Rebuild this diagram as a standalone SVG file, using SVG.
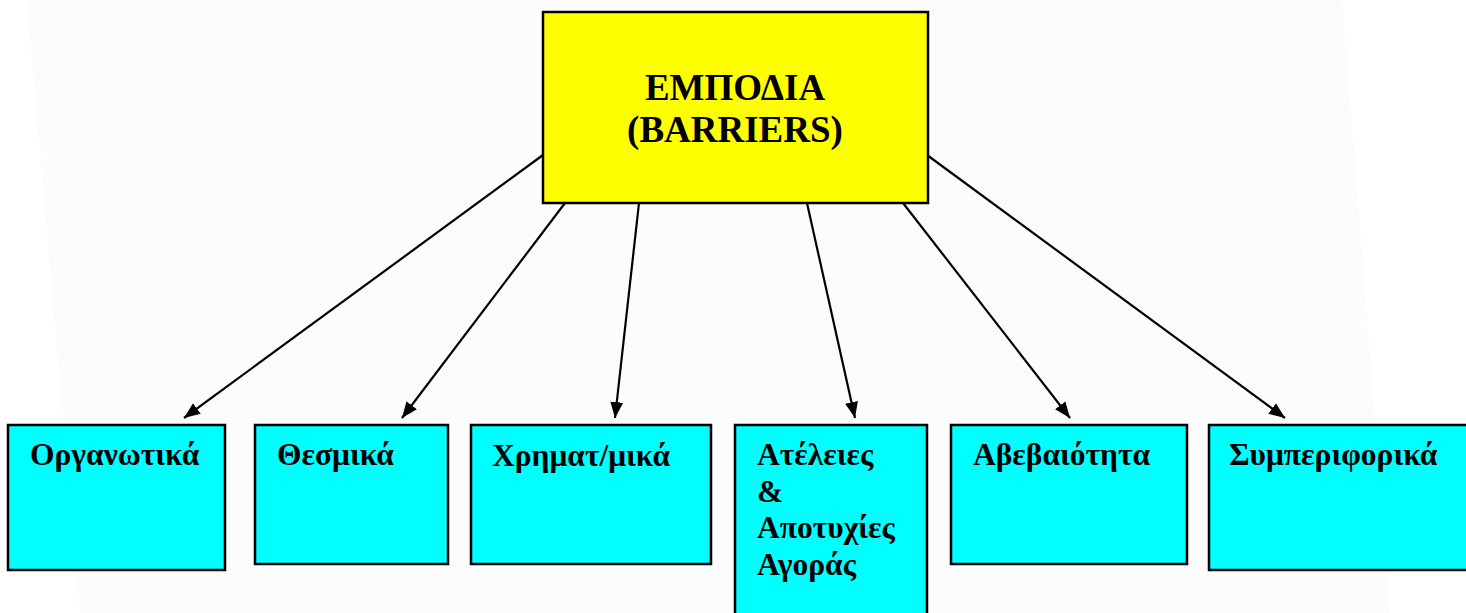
<svg xmlns="http://www.w3.org/2000/svg" width="1466" height="613" viewBox="0 0 1466 613">
<defs>
<marker id="ah" markerUnits="userSpaceOnUse" markerWidth="18" markerHeight="14" refX="16" refY="7" orient="auto">
<path d="M0,0.5 L16,7 L0,13.5 Z" fill="#000"/>
</marker>
<style>
.top{fill:#ffff00;stroke:#000;stroke-width:2.5}
.box{fill:#00ffff;stroke:#000;stroke-width:2.5}
.t{font-family:"Liberation Serif","Times New Roman",serif;font-weight:bold;fill:#000}
.tt{font-size:37px;text-anchor:middle}
.bt{font-size:31.5px}
.c line{stroke:#000;stroke-width:2.2;marker-end:url(#ah)}
</style>
</defs>
<rect width="1466" height="613" fill="#ffffff"/>
<polygon points="27,0 1342,0 1390,613 80,613" fill="#fcfcfc"/>
<g class="c" id="connectors">
<line x1="543" y1="155" x2="184" y2="418"/>
<line x1="565" y1="203" x2="402" y2="418"/>
<line x1="639" y1="203" x2="615" y2="418"/>
<line x1="807" y1="203" x2="855" y2="418"/>
<line x1="903" y1="203" x2="1070" y2="418"/>
<line x1="927" y1="155" x2="1285" y2="418"/>
</g>
<g id="barriers">
<rect class="top" x="543" y="12" width="385" height="191"/>
<text class="t tt" x="735" y="100">ΕΜΠΟΔΙΑ</text>
<text class="t tt" x="735" y="142">(BARRIERS)</text>
</g>
<g id="organotika">
<rect class="box" x="8" y="425" width="217" height="145"/>
<text class="t bt" x="30" y="465">Οργανωτικά</text>
</g>
<g id="thesmika">
<rect class="box" x="255" y="425" width="193" height="139"/>
<text class="t bt" x="277" y="465">Θεσμικά</text>
</g>
<g id="chrimatomika">
<rect class="box" x="471" y="425" width="240" height="139"/>
<text class="t bt" x="492" y="466">Χρηματ/μικά</text>
</g>
<g id="ateleies">
<rect class="box" x="735" y="425" width="192" height="200"/>
<text class="t bt" x="757" y="465">Ατέλειες</text>
<text class="t bt" x="757" y="502">&amp;</text>
<text class="t bt" x="757" y="538">Αποτυχίες</text>
<text class="t bt" x="757" y="575">Αγοράς</text>
</g>
<g id="avevaiotita">
<rect class="box" x="951" y="425" width="236" height="139"/>
<text class="t bt" x="973" y="465">Αβεβαιότητα</text>
</g>
<g id="symperiforika">
<rect class="box" x="1209" y="425" width="270" height="145"/>
<text class="t bt" x="1229" y="465">Συμπεριφορικά</text>
</g>
</svg>
